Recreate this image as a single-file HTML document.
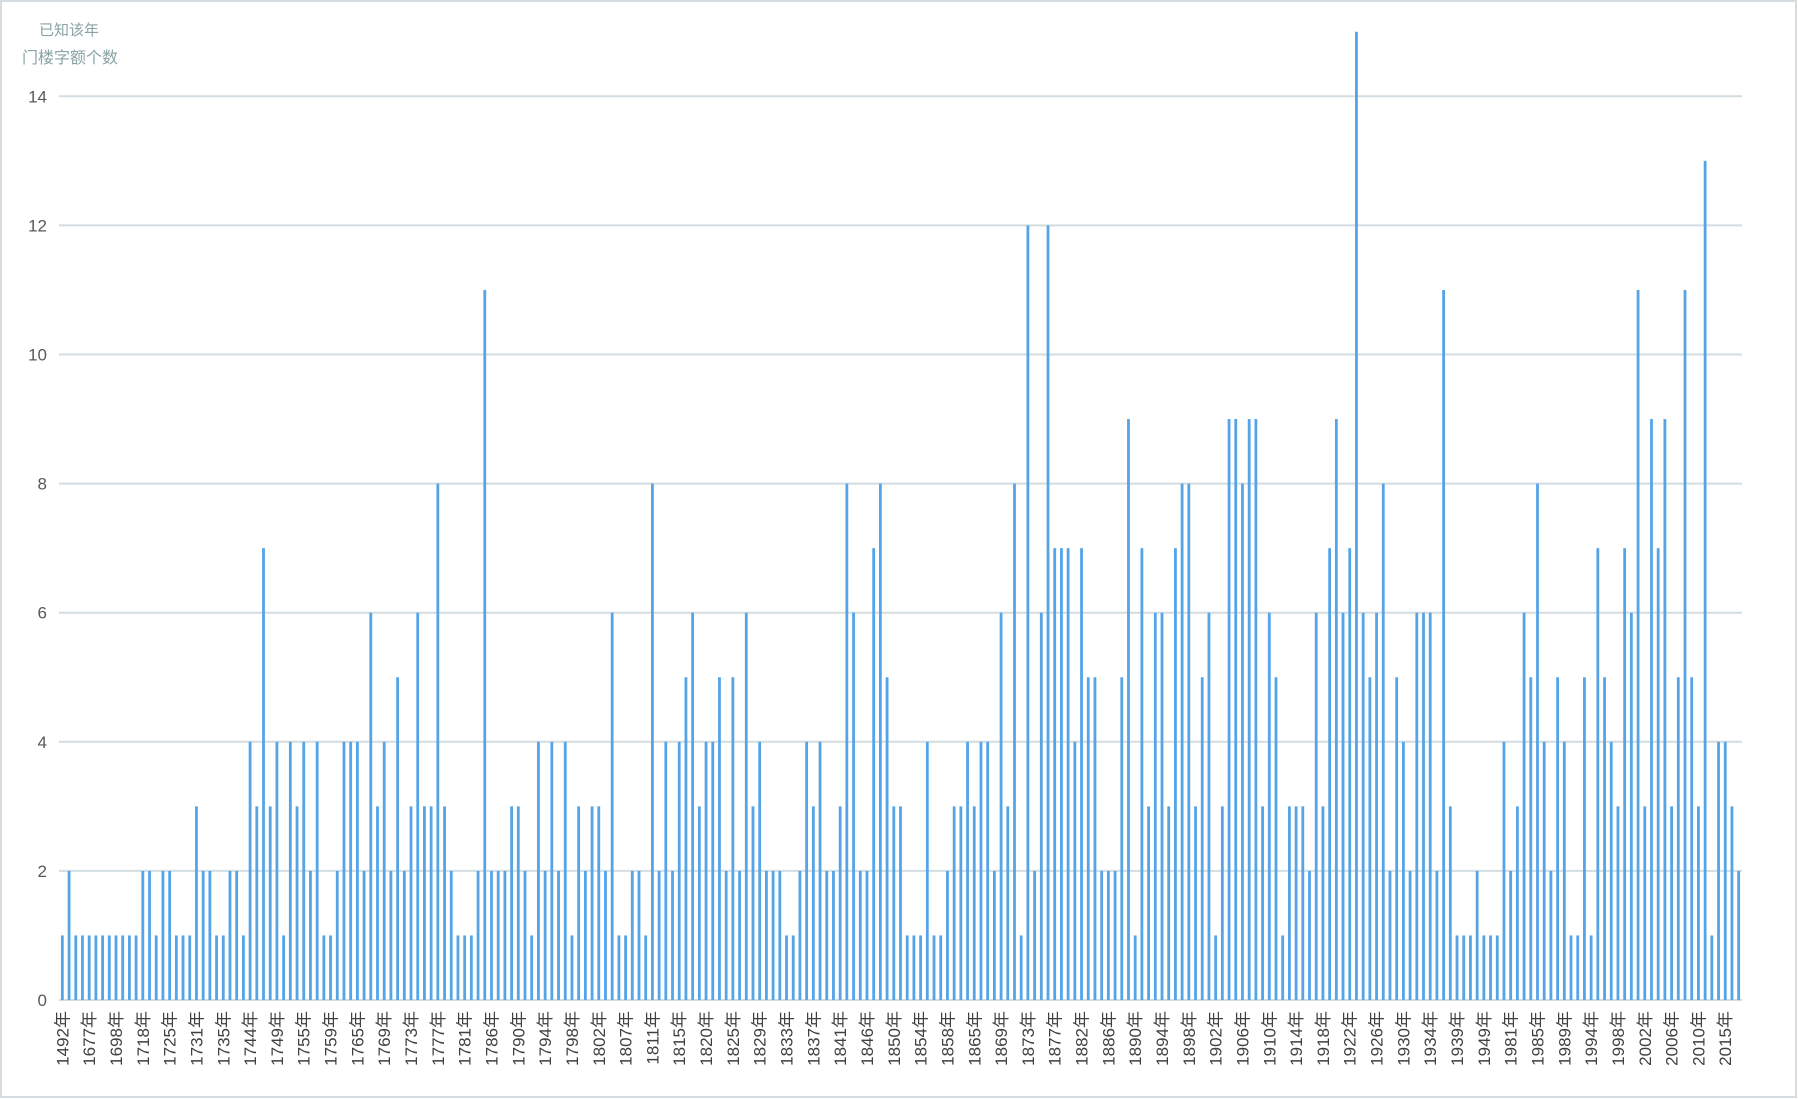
<!DOCTYPE html>
<html><head><meta charset="utf-8">
<style>
html,body{margin:0;padding:0;background:#fff;}
#wrap{position:relative;width:1798px;height:1099px;overflow:hidden;}
svg{position:absolute;left:0;top:0;}
text{font-family:"Liberation Sans","Noto Sans CJK SC",sans-serif;}
</style></head>
<body>
<div id="wrap">
<svg id="chart" width="1798" height="1099">
  <rect x="1" y="1" width="1795" height="1096" fill="none" stroke="#d6dde0" stroke-width="2"/>
  <text x="69" y="35" font-size="15" fill="#8aa3a3" text-anchor="middle">已知该年</text>
  <text x="70" y="63" font-size="16" fill="#8aa3a3" text-anchor="middle">门楼字额个数</text>
  <g id="grid"></g>
  <g id="yticks"></g>
  <g id="bars"></g>
  <g id="xlabels"></g>
</svg>
</div>
<script>
const values = [
1,2,1,1,1,1,1,1,1,1,1,1,2,2,1,2,2,1,1,1,3,2,2,1,1,2,2,1,4,3,7,
3,4,1,4,3,4,2,4,1,1,2,4,4,4,2,6,3,4,2,5,2,3,6,3,3,8,3,2,1,1,1,
2,11,2,2,2,3,3,2,1,4,2,4,2,4,1,3,2,3,3,2,6,1,1,2,2,1,8,2,4,2,4,
5,6,3,4,4,5,2,5,2,6,3,4,2,2,2,1,1,2,4,3,4,2,2,3,8,6,2,2,7,8,5,
3,3,1,1,1,4,1,1,2,3,3,4,3,4,4,2,6,3,8,1,12,2,6,12,7,7,7,4,7,5,5,
2,2,2,5,9,1,7,3,6,6,3,7,8,8,3,5,6,1,3,9,9,8,9,9,3,6,5,1,3,3,3,
2,6,3,7,9,6,7,15,6,5,6,8,2,5,4,2,6,6,6,2,11,3,1,1,1,2,1,1,1,4,2,
3,6,5,8,4,2,5,4,1,1,5,1,7,5,4,3,7,6,11,3,9,7,9,3,5,11,5,3,13,1,4,4,3,2
];
const tickLabels = ["1492","1677","1698","1718","1725","1731","1735","1744","1749","1755","1759","1765","1769","1773","1777","1781","1786","1790","1794","1798","1802","1807","1811","1815","1820","1825","1829","1833","1837","1841","1846","1850","1854","1858","1865","1869","1873","1877","1882","1886","1890","1894","1898","1902","1906","1910","1914","1918","1922","1926","1930","1934","1939","1949","1981","1985","1989","1994","1998","2002","2006","2010","2015"];
const yTicks = [0,2,4,6,8,10,12,14];
const labelEvery = 4;

const NS = "http://www.w3.org/2000/svg";
const plotL = 59, plotR = 1742, y0 = 1000, unit = 64.55;
const n = values.length;
const step = (plotR - plotL) / n;
function xScale(i){ return plotL + step * (i + 0.5); }
function yScale(v){ return y0 - v * unit; }

const grid = document.getElementById('grid');
const yt = document.getElementById('yticks');
yTicks.forEach(t => {
  const l = document.createElementNS(NS,'line');
  l.setAttribute('x1', plotL); l.setAttribute('x2', plotR);
  l.setAttribute('y1', yScale(t)); l.setAttribute('y2', yScale(t));
  l.setAttribute('stroke', '#d3dde1'); l.setAttribute('stroke-width', '2');
  
  
  grid.appendChild(l);
  const tx = document.createElementNS(NS,'text');
  tx.setAttribute('x', 47); tx.setAttribute('y', yScale(t) + 6);
  tx.setAttribute('font-size', '17'); tx.setAttribute('fill', '#595959');
  tx.setAttribute('text-anchor', 'end');
  tx.textContent = t;
  
  
  yt.appendChild(tx);
});

const bars = document.getElementById('bars');
const bw = 2.8;
values.forEach((v, i) => {
  const r = document.createElementNS(NS,'rect');
  r.setAttribute('x', xScale(i) - bw/2);
  r.setAttribute('y', yScale(v));
  r.setAttribute('width', bw);
  r.setAttribute('height', y0 - yScale(v));
  r.setAttribute('fill', '#55a4e8');
  
  
  bars.appendChild(r);
});

const xl = document.getElementById('xlabels');
tickLabels.forEach((lab, k) => {
  const i = k * labelEvery;
  const x = xScale(i), y = 1011;
  const tx = document.createElementNS(NS,'text');
  tx.setAttribute('transform', 'translate(' + (x + 6) + ',' + y + ') rotate(-90)');
  tx.setAttribute('font-size', '17'); tx.setAttribute('fill', '#404040');
  tx.setAttribute('text-anchor', 'end');
  tx.textContent = lab + '年';
  
  
  xl.appendChild(tx);
});
</script>
</body></html>
